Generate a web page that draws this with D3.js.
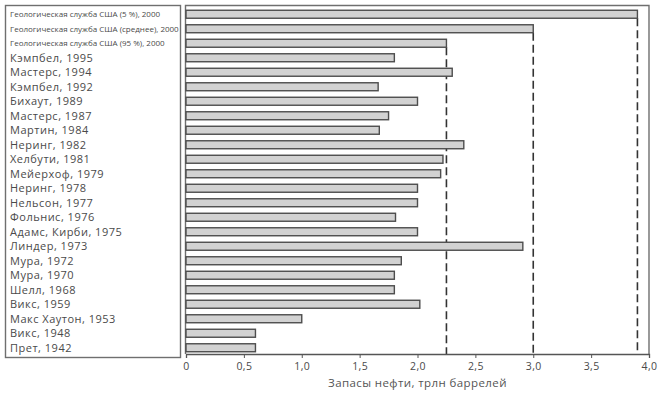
<!DOCTYPE html>
<html>
<head>
<meta charset="utf-8">
<script src="https://cdn.jsdelivr.net/npm/d3@7"></script>
<style>
  body { margin: 0; background: #fff; }
  text { font-family: "Open Sans", "DejaVu Sans", sans-serif; fill: #4a4a4a; }
</style>
</head>
<body>
<svg id="chart" width="660" height="395"></svg>
<script>
// estimates, trillion barrels
var names = [
  "Геологическая служба США (5 %), 2000",
  "Геологическая служба США (среднее), 2000",
  "Геологическая служба США (95 %), 2000",
  "Кэмпбел, 1995", "Мастерс, 1994", "Кэмпбел, 1992", "Бихаут, 1989",
  "Мастерс, 1987", "Мартин, 1984", "Неринг, 1982", "Хелбути, 1981",
  "Мейерхоф, 1979", "Неринг, 1978", "Нельсон, 1977", "Фольнис, 1976",
  "Адамс, Кирби, 1975", "Линдер, 1973", "Мура, 1972", "Мура, 1970",
  "Шелл, 1968", "Викс, 1959", "Макс Хаутон, 1953", "Викс, 1948", "Прет, 1942"
];
var values = [3.9, 3.0, 2.25, 1.8, 2.3, 1.66, 2.0, 1.75, 1.67, 2.4, 2.22,
  2.2, 2.0, 2.0, 1.81, 2.0, 2.91, 1.86, 1.8, 1.8, 2.02, 1.0, 0.6, 0.6];
var small = [true, true, true]; // USGS rows use a smaller font
var refRows = [0, 1, 2]; // dashed lines drop from the USGS bars
var ticks = [0, 0.5, 1, 1.5, 2, 2.5, 3, 3.5, 4];

var svg = d3.select("#chart");
// note: "top" is taken by window.top, so use other names
var plotLeft = 186, plotRight = 649, plotTop = 5, plotBottom = 354;

var x = d3.scaleLinear().domain([0, 4]).range([plotLeft, plotRight]);
var y = d3.scaleBand().domain(names).range([7, 355])
  .paddingInner(0.45).paddingOuter(0.225);

// label box
svg.append("rect")
  .attr("x", 5.5).attr("y", plotTop + 0.5)
  .attr("width", 175).attr("height", 352)
  .attr("fill", "none").attr("stroke", "#6f6f6f").attr("stroke-width", 1.4);

// plot frame
svg.append("path")
  .attr("d", "M" + (plotLeft - 0.5) + "," + plotBottom + "V" + (plotTop + 0.5) + "H" + plotRight + "V" + plotBottom)
  .attr("fill", "none").attr("stroke", "#6f6f6f").attr("stroke-width", 1.4);

// dashed reference lines
svg.selectAll(".ref").data(refRows).enter().append("line")
  .attr("x1", i => x(values[i])).attr("x2", i => x(values[i]))
  .attr("y1", i => y(names[i]) + y.bandwidth())
  .attr("y2", plotBottom)
  .attr("stroke", "#333").attr("stroke-width", 1.6)
  .attr("stroke-dasharray", "8,4");

// bars
svg.selectAll(".bar").data(values).enter().append("rect")
  .attr("x", x(0))
  .attr("y", (d, i) => y(names[i]))
  .attr("width", d => x(d) - x(0))
  .attr("height", y.bandwidth())
  .attr("fill", "#d2d2d2").attr("stroke", "#4d4d4d").attr("stroke-width", 1.4);

// labels
svg.selectAll(".lbl").data(names).enter().append("text")
  .attr("x", 10)
  .attr("y", d => y(d) + y.bandwidth() / 2 + 1)
  .attr("dominant-baseline", "middle")
  .style("font-size", (d, i) => small[i] ? "8px" : "11px")
  .style("letter-spacing", (d, i) => small[i] ? "0px" : "0.5px")
  .text(d => d);

// x axis
var axis = d3.axisBottom(x).tickValues(ticks).tickSize(4).tickPadding(5)
  .tickFormat(d => d === 0 ? "0" : d3.format(".1f")(d).replace(".", ","));
var g = svg.append("g").attr("transform", "translate(0," + plotBottom + ")").call(axis);
g.select(".domain").attr("stroke", "#555").attr("stroke-width", 1.3);
g.selectAll(".tick line").attr("stroke", "#555");
g.selectAll(".tick text").style("font-size", "10.5px").style("letter-spacing", "0.4px").attr("fill", "#555");

svg.append("text")
  .attr("x", (plotLeft + plotRight) / 2).attr("y", 387)
  .attr("text-anchor", "middle")
  .style("font-size", "11.5px").style("letter-spacing", "0.4px").style("fill", "#555")
  .text("Запасы нефти, трлн баррелей");
</script>
</body>
</html>
